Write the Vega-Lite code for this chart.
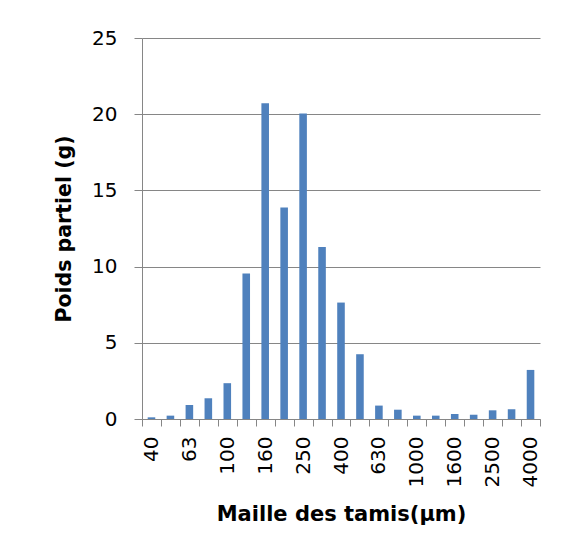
{
  "$schema": "https://vega.github.io/schema/vega-lite/v6.json",
  "autosize": {"type": "none"},
  "padding": {"left": 142, "top": 38, "right": 27, "bottom": 141},
  "width": 398,
  "height": 381,
  "background": "white",
  "data": {
    "values": [
      {"maille": "40", "poids": 0.11},
      {"maille": "50", "poids": 0.22},
      {"maille": "63", "poids": 0.92},
      {"maille": "80", "poids": 1.36},
      {"maille": "100", "poids": 2.35},
      {"maille": "125", "poids": 9.54},
      {"maille": "160", "poids": 20.72},
      {"maille": "200", "poids": 13.87},
      {"maille": "250", "poids": 20.04},
      {"maille": "315", "poids": 11.29},
      {"maille": "400", "poids": 7.64},
      {"maille": "500", "poids": 4.25},
      {"maille": "630", "poids": 0.88},
      {"maille": "800", "poids": 0.61},
      {"maille": "1000", "poids": 0.22},
      {"maille": "1250", "poids": 0.22},
      {"maille": "1600", "poids": 0.33},
      {"maille": "2000", "poids": 0.28},
      {"maille": "2500", "poids": 0.57},
      {"maille": "3150", "poids": 0.64},
      {"maille": "4000", "poids": 3.22}
    ]
  },
  "mark": {"type": "bar", "color": "#4F81BD", "width": {"band": 0.4}},
  "encoding": {
    "x": {
      "field": "maille",
      "type": "nominal",
      "sort": null,
      "scale": {"paddingInner": 0, "paddingOuter": 0},
      "axis": {
        "title": "Maille des tamis(µm)",
        "labelAngle": -90,
        "labelExpr": "indexof(['40','63','100','160','250','400','630','1000','1600','2500','4000'], datum.label) >= 0 ? datum.label : ''",
        "labelOverlap": false,
        "tickBand": "extent",
        "tickSize": 7,
        "labelPadding": 10,
        "labelFontSize": 20,
        "labelColor": "black",
        "titleFontSize": 21,
        "titleFontWeight": "bold",
        "titleColor": "black",
        "titlePadding": 17,
        "domainColor": "#868686",
        "tickColor": "#868686",
        "grid": false
      }
    },
    "y": {
      "field": "poids",
      "type": "quantitative",
      "scale": {"domain": [0, 25], "nice": false},
      "axis": {
        "title": "Poids partiel (g)",
        "values": [0, 5, 10, 15, 20, 25],
        "tickSize": 8,
        "labelPadding": 17,
        "labelFontSize": 20,
        "labelColor": "black",
        "titleFontSize": 20.5,
        "titleFontWeight": "bold",
        "titleColor": "black",
        "titlePadding": 17,
        "gridColor": "#868686",
        "domainColor": "#868686",
        "tickColor": "#868686"
      }
    }
  },
  "config": {
    "view": {"stroke": null},
    "font": "DejaVu Sans"
  }
}
